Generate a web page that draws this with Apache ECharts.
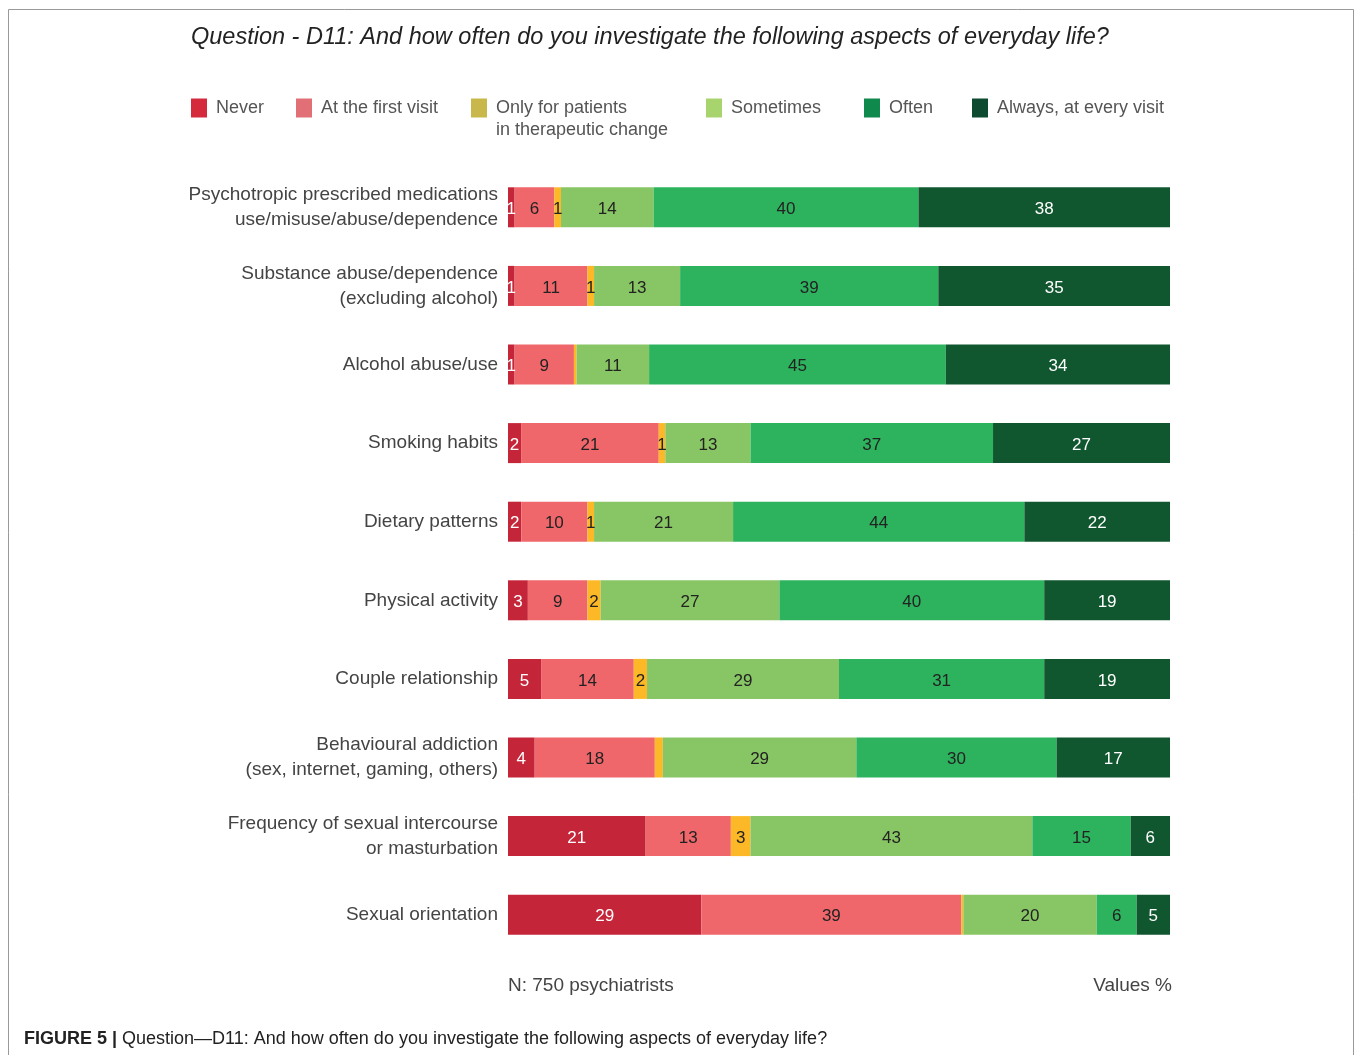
<!DOCTYPE html>
<html>
<head>
<meta charset="utf-8">
<script src="https://cdn.jsdelivr.net/npm/echarts@6/dist/echarts.min.js"></script>
<style>html,body{margin:0;padding:0;background:#fff;}#chart{width:1355px;height:1055px;}</style>
</head>
<body>
<div id="chart"></div>
<script>
const categories = [
  'Psychotropic prescribed medications\nuse/misuse/abuse/dependence',
  'Substance abuse/dependence\n(excluding alcohol)',
  'Alcohol abuse/use',
  'Smoking habits',
  'Dietary patterns',
  'Physical activity',
  'Couple relationship',
  'Behavioural addiction\n(sex, internet, gaming, others)',
  'Frequency of sexual intercourse\nor masturbation',
  'Sexual orientation'
];
const seriesNames = ['Never', 'At the first visit', 'Only for patients in therapeutic change', 'Sometimes', 'Often', 'Always, at every visit'];
// values in %, unlabeled slivers estimated as non-integers
const never = [1, 1, 1, 2, 2, 3, 5, 4, 21, 29];
const firstVisit = [6, 11, 9, 21, 10, 9, 14, 18, 13, 39];
const onlyTherapeutic = [1, 1, 0.4, 1, 1, 2, 2, 1.2, 3, 0.3];
const sometimes = [14, 13, 11, 13, 21, 27, 29, 29, 43, 20];
const often = [40, 39, 45, 37, 44, 40, 31, 30, 15, 6];
const always = [38, 35, 34, 27, 22, 19, 19, 17, 6, 5];

const barColors = ['#c42538', '#f0676b', '#fcb826', '#88c665', '#2db35e', '#10572f'];
const legendColors = ['#d42a3c', '#e07075', '#c8b84b', '#a8d46e', '#0f8a4c', '#0d4a30'];
const labelColors = ['#ffffff', '#222222', '#222222', '#222222', '#222222', '#ffffff'];
const allValues = [never, firstVisit, onlyTherapeutic, sometimes, often, always];

const totals = categories.map((c, i) => allValues.reduce((s, arr) => s + arr[i], 0));

const chart = echarts.init(document.getElementById('chart'));
const narrow = "'Liberation Sans Narrow', 'Arial Narrow', 'Liberation Sans', Arial, sans-serif";
const sans = "'Liberation Sans', Arial, Helvetica, sans-serif";

const series = allValues.map((arr, k) => ({
  name: seriesNames[k],
  type: 'bar',
  stack: 'total',
  barWidth: 40,
  itemStyle: { color: barColors[k] },
  label: {
    show: true,
    position: 'inside',
    offset: [0, 2],
    color: labelColors[k],
    fontFamily: narrow,
    fontSize: 17,
    formatter: p => Number.isInteger(p.data.raw) ? String(p.data.raw) : ''
  },
  data: arr.map((v, i) => ({ value: v / totals[i] * 100, raw: v }))
}));

const legendLefts = [191, 296, 471, 706, 864, 972];
const legends = seriesNames.map((n, k) => ({
  left: legendLefts[k],
  top: k === 2 ? 75 : 97,
  padding: 0,
  itemWidth: 16,
  itemHeight: 19,
  icon: 'rect',
  selectedMode: false,
  data: [{ name: n, itemStyle: { color: legendColors[k] } }],
  formatter: k === 2 ? () => ' \nOnly for patients\nin therapeutic change' : null,
  textStyle: {
    fontFamily: sans,
    fontSize: 18,
    color: '#555',
    lineHeight: 22,
    padding: [0, 0, 0, 4]
  }
}));

chart.setOption({
  animation: false,
  backgroundColor: '#fff',
  title: {
    text: 'Question - D11: And how often do you investigate the following aspects of everyday life?',
    left: 191,
    top: 26,
    padding: 0,
    textStyle: { fontFamily: sans, fontSize: 23.5, fontStyle: 'italic', fontWeight: 'normal', color: '#222' }
  },
  legend: legends,
  grid: { left: 508, right: 185, top: 168, bottom: 101 },
  xAxis: {
    type: 'value', min: 0, max: 100, show: false
  },
  yAxis: {
    type: 'category',
    inverse: true,
    data: categories,
    axisLine: { show: false },
    axisTick: { show: false },
    axisLabel: { margin: 10, fontFamily: sans, fontSize: 19, color: '#444', lineHeight: 25, align: 'right' }
  },
  series: series,
  graphic: [
    { type: 'rect', shape: { x: 8.5, y: 9.5, width: 1345, height: 1080 }, style: { fill: 'none', stroke: '#999', lineWidth: 1 }, silent: true },
    { type: 'text', left: 508, top: 976, style: { text: 'N: 750 psychiatrists', fontFamily: sans, fontSize: 19, fill: '#444' } },
    { type: 'text', right: 183, top: 976, style: { text: 'Values %', fontFamily: sans, fontSize: 19, fill: '#444', textAlign: 'right' } },
    { type: 'text', left: 24, top: 1030, style: {
        text: '{b|FIGURE 5 |} Question\u2014D11: And how often do you investigate the following aspects of everyday life?',
        fontFamily: narrow, fontSize: 18, fill: '#222',
        rich: { b: { fontFamily: narrow, fontSize: 18, fontWeight: 'bold', fill: '#222' } }
      } }
  ]
});
</script>
</body>
</html>
